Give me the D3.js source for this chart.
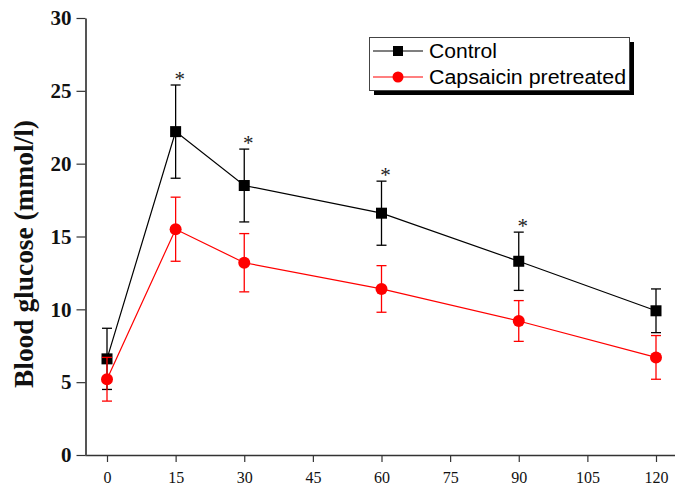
<!DOCTYPE html>
<html>
<head>
<meta charset="utf-8">
<script src="https://cdn.jsdelivr.net/npm/d3@7"></script>
<style>
  body { margin: 0; background: #fff; }
  svg { display: block; }
</style>
</head>
<body>
<script>
'use strict';

// data
const times = [0, 15, 30, 60, 90, 120];
const controlMean = [6.6, 22.2, 18.5, 16.6, 13.3, 9.9];
const controlErr = [2.1, 3.2, 2.5, 2.2, 2.0, 1.5];
const capsMean = [5.2, 15.5, 13.2, 11.4, 9.2, 6.7];
const capsErr = [1.5, 2.2, 2.0, 1.6, 1.4, 1.5];
const starTimes = [15, 30, 60, 90];
const xTicks = [0, 15, 30, 45, 60, 75, 90, 105, 120];
const yTicks = [0, 5, 10, 15, 20, 25, 30];
const seriesNames = ["Control", "Capsaicin pretreated"];

const W = 675, H = 489;
const svg = d3.select("body").append("svg").attr("width", W).attr("height", H);

const x = d3.scaleLinear().domain([0, 120]).range([107, 656]);
const y = d3.scaleLinear().domain([0, 30]).range([455, 18]);

const serif = "Liberation Serif, Times New Roman, serif";
const sans = "Liberation Sans, Arial, sans-serif";

// axes
const xAxis = svg.append("g")
    .attr("transform", `translate(0,${y(0)})`)
    .call(d3.axisBottom(x).tickValues(xTicks).tickSize(7).tickSizeOuter(0));
xAxis.select(".domain").attr("d", `M85.5,0.5H675`).attr("stroke", "#333").attr("stroke-width", 1.5);
xAxis.selectAll(".tick line").attr("stroke", "#333").attr("stroke-width", 1.2);
xAxis.selectAll(".tick text")
    .attr("font-family", serif)
    .attr("font-size", 16).attr("fill", "#111").attr("dy", "1.15em");

const yAxis = svg.append("g")
    .attr("transform", `translate(85.5,0)`)
    .call(d3.axisLeft(y).tickValues(yTicks).tickSize(9).tickSizeOuter(0));
yAxis.select(".domain").attr("stroke", "#555").attr("stroke-width", 2);
yAxis.selectAll(".tick line").attr("stroke", "#333").attr("stroke-width", 1.2);
yAxis.selectAll(".tick text")
    .attr("font-family", serif)
    .attr("font-weight", "bold")
    .attr("font-size", 21).attr("fill", "#111").attr("x", -14);

svg.append("text")
    .attr("transform", `translate(33,254) rotate(-90)`)
    .attr("text-anchor", "middle")
    .attr("font-family", serif)
    .attr("font-weight", "bold")
    .attr("font-size", 27)
    .attr("textLength", 268)
    .attr("lengthAdjust", "spacingAndGlyphs")
    .attr("fill", "#111")
    .text("Blood glucose (mmol/l)");

const line = d3.line().x(d => x(d.t)).y(d => y(d.m));

function drawSeries(mean, err, color, marker) {
    const pts = times.map((t, i) => ({ t, m: mean[i], e: err[i] }));
    const g = svg.append("g");
    // error bars
    const eb = g.selectAll(".eb").data(pts).join("g");
    eb.append("line")
        .attr("x1", d => x(d.t)).attr("x2", d => x(d.t))
        .attr("y1", d => y(d.m - d.e)).attr("y2", d => y(d.m + d.e))
        .attr("stroke", color).attr("stroke-width", 1.3);
    eb.append("line")
        .attr("x1", d => x(d.t) - 5).attr("x2", d => x(d.t) + 5)
        .attr("y1", d => y(d.m + d.e)).attr("y2", d => y(d.m + d.e))
        .attr("stroke", color).attr("stroke-width", 1.3);
    eb.append("line")
        .attr("x1", d => x(d.t) - 5).attr("x2", d => x(d.t) + 5)
        .attr("y1", d => y(d.m - d.e)).attr("y2", d => y(d.m - d.e))
        .attr("stroke", color).attr("stroke-width", 1.3);
    g.append("path").datum(pts)
        .attr("d", line).attr("fill", "none")
        .attr("stroke", color).attr("stroke-width", 1.2);
    if (marker === "square") {
        g.selectAll(".mk").data(pts).join("rect")
            .attr("x", d => x(d.t) - 5.5).attr("y", d => y(d.m) - 5.5)
            .attr("width", 11).attr("height", 11).attr("fill", color);
    } else {
        g.selectAll(".mk").data(pts).join("circle")
            .attr("cx", d => x(d.t)).attr("cy", d => y(d.m))
            .attr("r", 6).attr("fill", color);
    }
}

drawSeries(controlMean, controlErr, "#000", "square");
drawSeries(capsMean, capsErr, "#ff0000", "circle");

// significance asterisks
svg.selectAll(".star").data(starTimes).join("text")
    .attr("x", t => x(t) + 4)
    .attr("y", t => {
        const i = times.indexOf(t);
        return y(controlMean[i] + controlErr[i]) + 1;
    })
    .attr("text-anchor", "middle")
    .attr("font-family", serif)
    .attr("font-size", 21)
    .attr("fill", "#222")
    .text("*");

// legend
const lg = svg.append("g").attr("transform", "translate(369,37)");
lg.append("rect").attr("x", 5).attr("y", 5).attr("width", 260).attr("height", 53).attr("fill", "#000");
lg.append("rect").attr("x", 0.5).attr("y", 0.5).attr("width", 260).attr("height", 53)
    .attr("fill", "#fff").attr("stroke", "#444").attr("stroke-width", 1);
const legendItems = [
    { name: seriesNames[0], color: "#000", marker: "square", len: 68 },
    { name: seriesNames[1], color: "#ff0000", marker: "circle", len: 197 }
];
legendItems.forEach((d, i) => {
    const cy = 14 + i * 26;
    lg.append("line").attr("x1", 4).attr("x2", 54).attr("y1", cy).attr("y2", cy)
        .attr("stroke", d.color).attr("stroke-width", 1.2);
    if (d.marker === "square") {
        lg.append("rect").attr("x", 24).attr("y", cy - 5).attr("width", 10).attr("height", 10).attr("fill", d.color);
    } else {
        lg.append("circle").attr("cx", 29).attr("cy", cy).attr("r", 5.5).attr("fill", d.color);
    }
    lg.append("text").attr("x", 60).attr("y", cy).attr("dy", "0.36em")
        .attr("font-family", sans)
        .attr("font-size", 19.5).attr("fill", "#000")
        .attr("textLength", d.len)
        .attr("lengthAdjust", "spacingAndGlyphs")
        .text(d.name);
});
</script>
</body>
</html>
